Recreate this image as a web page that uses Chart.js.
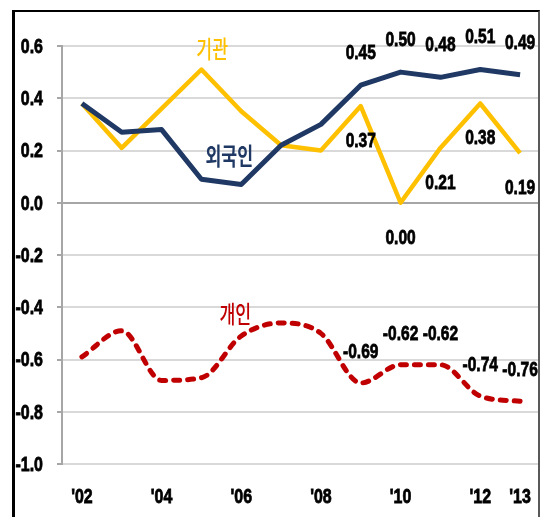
<!DOCTYPE html>
<html>
<head>
<meta charset="utf-8">
<script src="https://cdn.jsdelivr.net/npm/chart.js@4.4.1/dist/chart.umd.min.js"></script>
<style>
  html, body { margin: 0; padding: 0; background: #fff; overflow: hidden; }
  #wrap { position: relative; width: 542px; height: 517px; }
  #frame {
    position: absolute; left: 12px; top: 10px; width: 523px; height: 520px;
    border-left: 3px solid #000; border-top: 2px solid #000; border-right: 2px solid #595959;
    pointer-events: none;
  }
</style>
</head>
<body>
<div id="wrap">
  <canvas id="ch_flow" width="542" height="517"></canvas>
  <div id="frame"></div>
</div>
<script>
/* ── data (net buying share by investor type, 2002–2013) ───────── */
const years      = ['2002','2003','2004','2005','2006','2007','2008','2009','2010','2011','2012','2013'];
const yearTicks  = ["'02", '', "'04", '', "'06", '', "'08", '', "'10", '', "'12", "'13"];
const foreign    = [0.38, 0.27, 0.28, 0.09, 0.07, 0.22, 0.30, 0.45, 0.50, 0.48, 0.51, 0.49];
const inst       = [0.38, 0.21, 0.36, 0.51, 0.35, 0.22, 0.20, 0.37, 0.00, 0.21, 0.38, 0.19];
const indiv      = [-0.59, -0.49, -0.68, -0.67, -0.51, -0.46, -0.50, -0.69, -0.62, -0.62, -0.74, -0.76];
const firstLabeled = 7; // values printed from '09 on

const NAVY = '#1F3864', GOLD = '#FFC000', RED = '#C00000';
const BOLD = 'bold 21px "Liberation Sans", "DejaVu Sans", sans-serif';

// value label offset (px) relative to the point, per dataset
const labelOffsets = [-32, 35, -31];

// series name notes, anchored in data space (category index, value)
const seriesNotes = [
  { text: '기관',   color: GOLD, at: [3.27, 0.59],  weight: '500' },
  { text: '외국인', color: NAVY, at: [3.7, 0.18],   weight: 'bold' },
  { text: '개인',   color: RED,  at: [3.85, -0.425], weight: '500' }
];

// draws squeezed text (the source picture is horizontally condensed)
function squeezed(ctx, text, x, y, sx, align, heavy) {
  ctx.save();
  ctx.translate(x, y);
  ctx.scale(sx, 1);
  ctx.textAlign = align || 'center';
  ctx.fillText(text, 0, 0);
  if (heavy) {
    ctx.strokeStyle = ctx.fillStyle;
    ctx.lineWidth = heavy;
    ctx.strokeText(text, 0, 0);
  }
  ctx.restore();
}

/* ── plugin: axis labels, value labels, series names ───────────── */
const textLayer = {
  id: 'textLayer',
  afterDatasetsDraw(chart) {
    const { ctx, scales: { x, y } } = chart;
    ctx.save();
    ctx.textBaseline = 'middle';
    ctx.fillStyle = '#000';
    ctx.font = BOLD;

    // y tick labels
    y.ticks.forEach((t, i) => {
      const v = Math.abs(t.value) < 1e-9 ? 0 : t.value;
      squeezed(ctx, v.toFixed(1), y.right - 19, y.getPixelForTick(i) + 1, 0.76, 'right', 0.8);
    });
    // x tick labels
    x.ticks.forEach((t, i) => {
      if (!yearTicks[i]) return;
      squeezed(ctx, yearTicks[i], x.getPixelForTick(i), x.top + 33, 0.76, 'center', 0.8);
    });

    // value labels
    chart.data.datasets.forEach((ds, di) => {
      const meta = chart.getDatasetMeta(di);
      meta.data.forEach((pt, i) => {
        if (i < firstLabeled) return;
        squeezed(ctx, ds.data[i].toFixed(2), pt.x, pt.y + labelOffsets[di], 0.74, 'center', 0.8);
      });
    });

    // series names
    seriesNotes.forEach(n => {
      ctx.fillStyle = n.color;
      ctx.font = `${n.weight} 24px "Noto Sans CJK KR", sans-serif`;
      squeezed(ctx, n.text, x.getPixelForValue(n.at[0]), y.getPixelForValue(n.at[1]), 0.72);
    });
    ctx.restore();
  }
};

const canvas = document.getElementById('ch_flow');
new Chart(canvas.getContext('2d'), {
  type: 'line',
  data: {
    labels: years,
    datasets: [
      { label: '외국인', data: foreign, borderColor: NAVY, borderWidth: 5, pointRadius: 0, tension: 0, borderJoinStyle: 'round' },
      { label: '기관',   data: inst,    borderColor: GOLD, borderWidth: 4.5, pointRadius: 0, tension: 0, borderJoinStyle: 'round' },
      { label: '개인',   data: indiv,   borderColor: RED,  borderWidth: 5, pointRadius: 0,
        cubicInterpolationMode: 'monotone', borderDash: [6, 8], borderCapStyle: 'round' }
    ]
  },
  options: {
    responsive: false,
    animation: false,
    layout: { padding: { top: 46, right: 2, left: 0, bottom: 0 } },
    plugins: { legend: { display: false }, tooltip: { enabled: false } },
    scales: {
      x: {
        offset: true,
        grid: { display: false, drawTicks: false },
        border: { display: false },
        ticks: { display: false, autoSkip: false },
        afterFit(s) { s.height = 53; }
      },
      y: {
        min: -1.0, max: 0.6,
        ticks: { stepSize: 0.2, display: false },
        grid: {
          color: c => (c.tick && Math.abs(c.tick.value) < 1e-9) ? '#A6A6A6' : '#D9D9D9',
          lineWidth: 2, tickLength: 5, tickColor: '#A6A6A6'
        },
        border: { color: '#A6A6A6', width: 2 },
        afterFit(s) { s.width = 62; }
      }
    }
  },
  plugins: [textLayer]
});
</script>
</body>
</html>
